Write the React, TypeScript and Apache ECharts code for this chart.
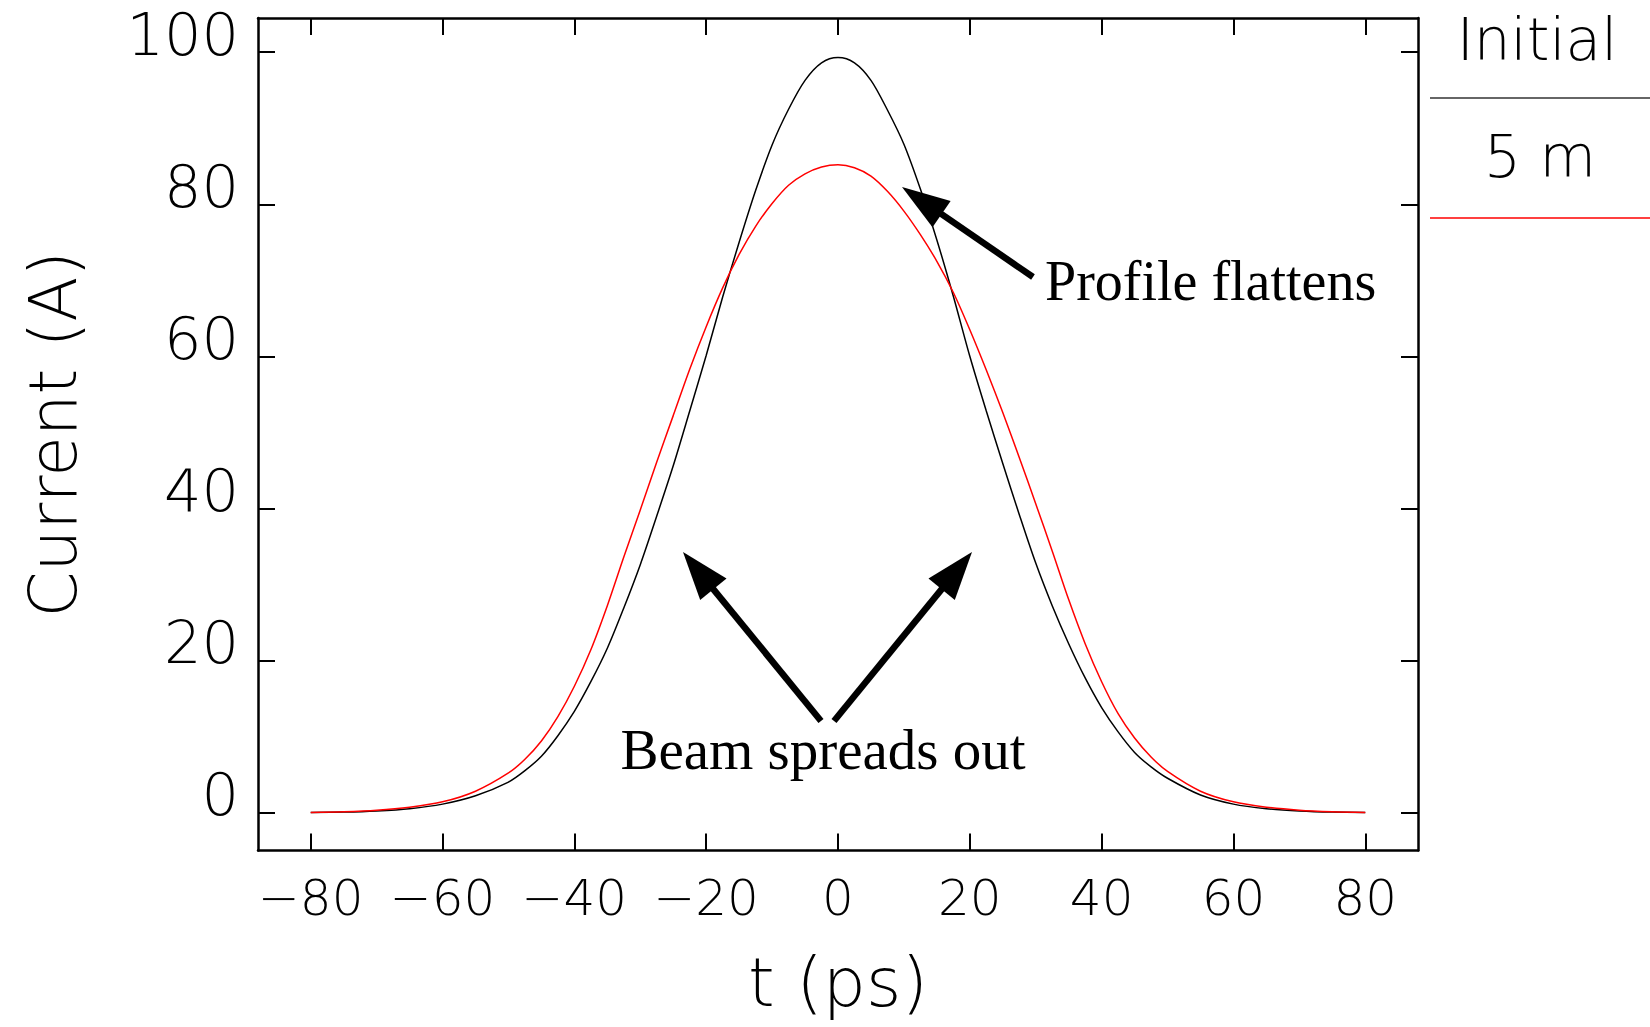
import React, { useEffect, useRef } from "react";
import * as echarts from "echarts";

// ---- data ----
const tValues = [-80, -75, -70, -65, -60, -55, -50, -47.5, -45, -42.5, -40, -37.5, -35, -32.5, -30, -27.5, -25, -22.5, -20, -17.5, -15, -12.5, -10, -7.5, -5, -2.5, 0, 2.5, 5, 7.5, 10, 12.5, 15, 17.5, 20, 22.5, 25, 27.5, 30, 32.5, 35, 37.5, 40, 42.5, 45, 47.5, 50, 55, 60, 65, 70, 75, 80];
const initialCurrent = [0, 0.05, 0.2, 0.5, 1.1, 2.2, 4.0, 5.5, 7.4, 10.1, 13.3, 17.2, 21.6, 26.9, 32.6, 39.0, 45.6, 52.8, 60.1, 67.8, 75.0, 81.8, 87.8, 92.5, 96.3, 98.6, 99.3, 98.6, 96.3, 92.4, 87.9, 82.0, 75.3, 67.9, 60.0, 52.8, 45.9, 39.2, 32.8, 27.2, 22.2, 17.7, 13.8, 10.6, 7.9, 6.0, 4.5, 2.3, 1.1, 0.5, 0.2, 0.05, 0];
const fiveMCurrent = [0, 0.1, 0.3, 0.7, 1.4, 2.8, 5.2, 7.0, 9.4, 12.6, 16.6, 21.4, 27.2, 33.6, 39.8, 46.1, 52.2, 58.3, 63.9, 69.0, 73.4, 77.1, 80.1, 82.5, 84.0, 84.9, 85.2, 84.8, 83.7, 81.7, 79.1, 76.0, 72.5, 68.4, 63.5, 58.2, 52.6, 46.7, 40.6, 34.4, 28.0, 22.2, 17.2, 13.0, 9.8, 7.3, 5.4, 2.8, 1.4, 0.7, 0.3, 0.1, 0];
const seriesNames = ["Initial", "5 m"];
const seriesColors = ["#000000", "#ff0000"];
const xTicks = [-80, -60, -40, -20, 0, 20, 40, 60, 80];
const yTicks = [0, 20, 40, 60, 80, 100];
const xTitle = "t (ps)";
const yTitle = "Current (A)";
const annotationTop = "Profile flattens";
const annotationBottom = "Beam spreads out";

const SANS = "'DejaVu Sans', sans-serif";
const SERIF = "'Liberation Serif', 'Times New Roman', serif";

function arrow(tail: number[], tip: number[], headLen: number, headHalfW: number, shaftW: number) {
  const dx = tip[0] - tail[0];
  const dy = tip[1] - tail[1];
  const len = Math.hypot(dx, dy);
  const ux = dx / len, uy = dy / len;
  const nx = -uy, ny = ux;
  const bx = tip[0] - ux * headLen;
  const by = tip[1] - uy * headLen;
  return [
    {
      type: "line",
      shape: { x1: tail[0], y1: tail[1], x2: bx + ux * 4, y2: by + uy * 4 },
      style: { stroke: "#000", lineWidth: shaftW },
      silent: true,
    },
    {
      type: "polygon",
      shape: { points: [tip, [bx + nx * headHalfW, by + ny * headHalfW], [bx - nx * headHalfW, by - ny * headHalfW]] },
      style: { fill: "#000" },
      silent: true,
    },
  ];
}

export default function App() {
  const ref = useRef<HTMLDivElement>(null);
  useEffect(() => {
    if (!ref.current) return;
    const chart = echarts.init(ref.current, null, { renderer: "svg" });
    const frameLine = { show: true, onZero: false, lineStyle: { color: "#000", width: 2.5 } };
    const tickStyle = { color: "#000", width: 2 };
    const minusFmt = (v: number) => String(v).replace("-", "\u2212");

    const xAxisBase = {
      type: "value",
      min: -88,
      max: 88,
      splitLine: { show: false },
      axisLine: frameLine,
      axisTick: { show: true, inside: true, length: 17, customValues: xTicks, lineStyle: tickStyle },
    };
    const yAxisBase = {
      type: "value",
      min: -5,
      max: 104.5,
      splitLine: { show: false },
      axisLine: frameLine,
      axisTick: { show: true, inside: true, length: 17, customValues: yTicks, lineStyle: tickStyle },
    };

    chart.setOption({
      animation: false,
      backgroundColor: "#ffffff",
      grid: { left: 258, top: 18, width: 1160, height: 832.5, containLabel: false },
      xAxis: [
        {
          ...xAxisBase,
          position: "bottom",
          axisLabel: {
            customValues: xTicks,
            margin: 22,
            fontSize: 50,
            lineHeight: 50,
            fontFamily: SANS,
            fontWeight: 200,
            color: "#000",
            formatter: minusFmt,
          },
          name: xTitle,
          nameLocation: "middle",
          nameGap: 98,
          nameTextStyle: { fontSize: 68, lineHeight: 68, fontFamily: SANS, fontWeight: 200, color: "#000" },
        },
        { ...xAxisBase, position: "top", axisLabel: { show: false } },
      ],
      yAxis: [
        {
          ...yAxisBase,
          position: "left",
          axisLabel: {
            customValues: yTicks,
            margin: 19,
            fontSize: 59,
            lineHeight: 35,
            verticalAlign: "bottom",
            fontFamily: SANS,
            fontWeight: 200,
            color: "#000",
          },
          name: yTitle,
          nameLocation: "middle",
          nameGap: 172,
          nameTextStyle: { fontSize: 66, lineHeight: 66, fontFamily: SANS, fontWeight: 200, color: "#000" },
        },
        { ...yAxisBase, position: "right", axisLabel: { show: false } },
      ],
      series: [
        {
          name: seriesNames[0],
          type: "line",
          data: tValues.map((t, i) => [t, initialCurrent[i]]),
          showSymbol: false,
          smooth: 0.3,
          lineStyle: { color: seriesColors[0], width: 1.5 },
          z: 3,
        },
        {
          name: seriesNames[1],
          type: "line",
          data: tValues.map((t, i) => [t, fiveMCurrent[i]]),
          showSymbol: false,
          smooth: 0.3,
          lineStyle: { color: seriesColors[1], width: 1.5 },
          z: 4,
        },
      ],
      graphic: [
        // legend
        {
          type: "text",
          style: { text: seriesNames[0], x: 1537, y: 40, align: "center", verticalAlign: "middle", font: `200 58px ${SANS}`, fill: "#000" },
        },
        { type: "line", shape: { x1: 1430, y1: 98, x2: 1650, y2: 98 }, style: { stroke: "#333", lineWidth: 1.5 } },
        {
          type: "text",
          style: { text: seriesNames[1], x: 1540, y: 157, align: "center", verticalAlign: "middle", font: `200 58px ${SANS}`, fill: "#000" },
        },
        { type: "line", shape: { x1: 1430, y1: 218, x2: 1650, y2: 218 }, style: { stroke: "#ff0000", lineWidth: 1.5 } },
        // annotations
        {
          type: "text",
          style: { text: annotationTop, x: 1045, y: 281, align: "left", verticalAlign: "middle", font: `56px ${SERIF}`, fill: "#000" },
        },
        ...arrow([1033, 277], [902, 187], 48, 16, 6.5),
        {
          type: "text",
          style: { text: annotationBottom, x: 823, y: 749, align: "center", verticalAlign: "middle", font: `57px ${SERIF}`, fill: "#000" },
        },
        ...arrow([821, 721], [683, 552], 48, 17, 6.5),
        ...arrow([834, 721], [972, 552], 48, 17, 6.5),
      ],
    });
    return () => chart.dispose();
  }, []);
  return (
    <div
      ref={ref}
      style={{ position: "fixed", left: 0, top: 0, width: 1650, height: 1027, background: "#fff" }}
    />
  );
}
